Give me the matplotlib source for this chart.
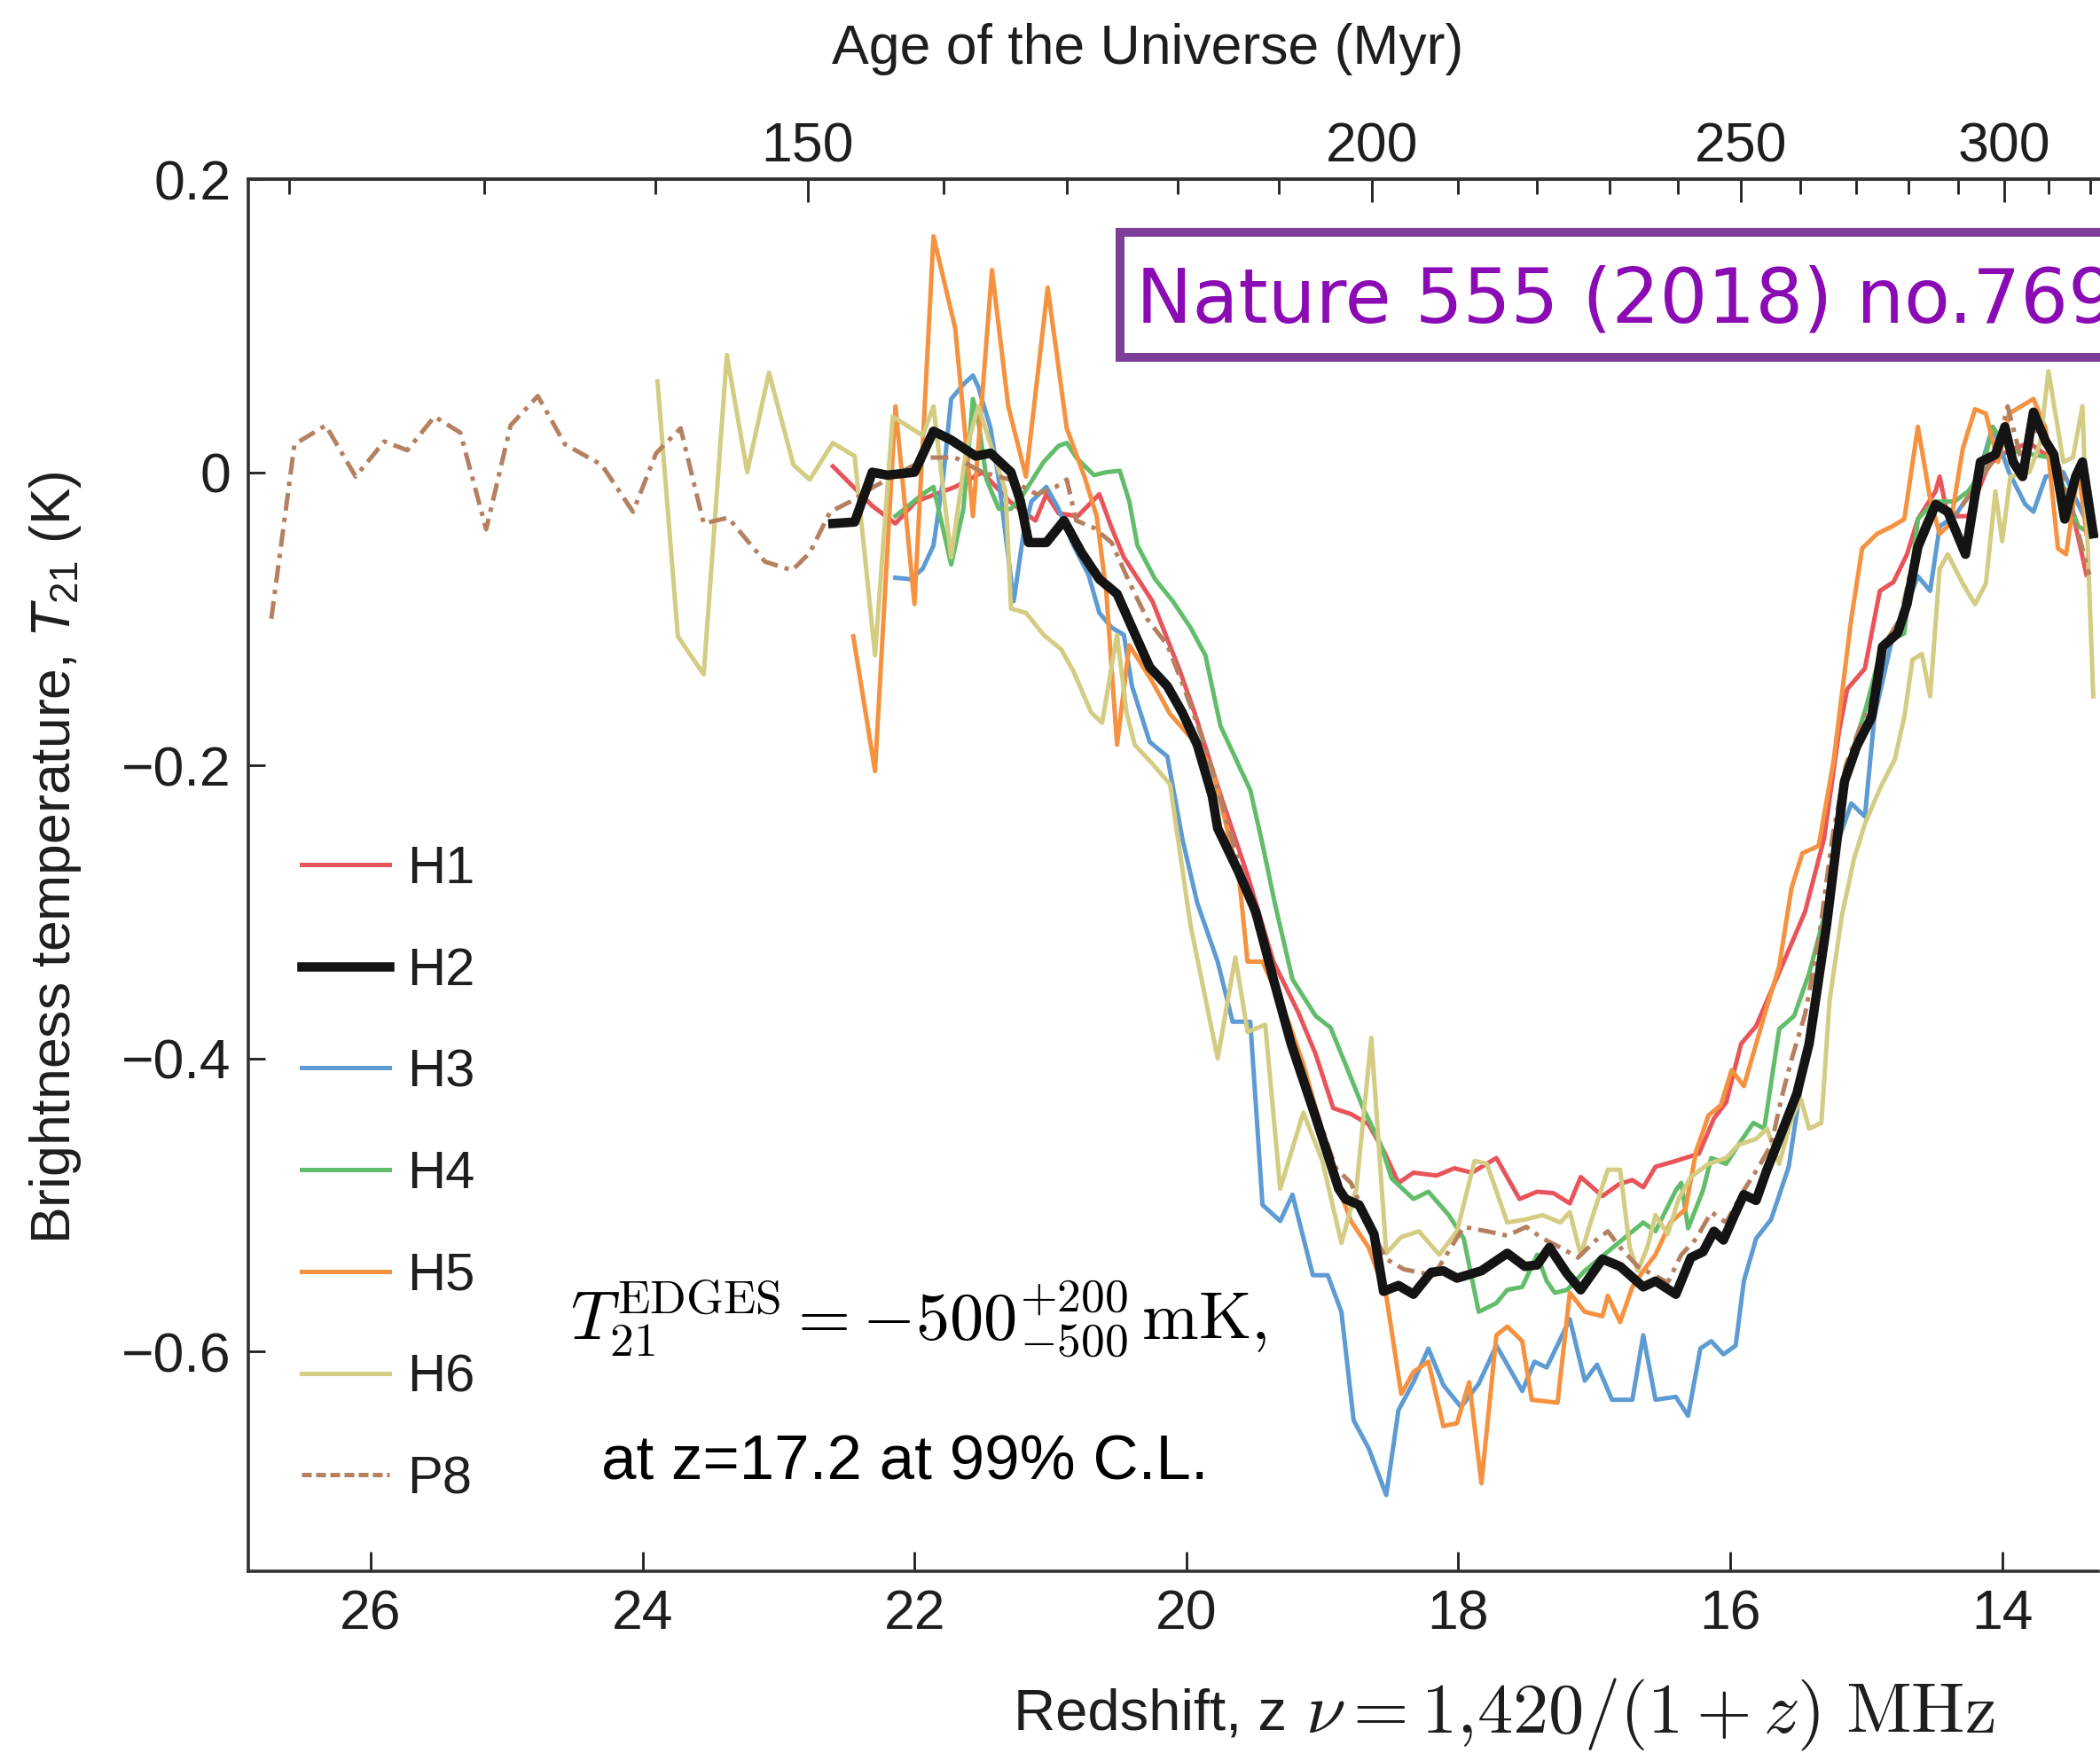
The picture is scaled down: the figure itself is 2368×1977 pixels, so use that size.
import numpy as np
import matplotlib
matplotlib.use("Agg")
import matplotlib.pyplot as plt
from matplotlib.patches import Rectangle
from matplotlib.ticker import FixedLocator

plt.rcParams['font.family'] = ['Liberation Sans', 'DejaVu Sans']
plt.rcParams['mathtext.fontset'] = 'custom'
plt.rcParams['mathtext.rm'] = 'Liberation Sans'
plt.rcParams['mathtext.it'] = 'Liberation Sans:italic'

#------------------------------------------------------------------#
# EDGES absorption profiles, T21 vs redshift for hardware cases
#------------------------------------------------------------------#

z_h1 = [22.60, 22.31, 22.14, 21.99, 21.70, 21.50, 21.30, 21.11, 21.03, 20.94, 20.80, 20.64, 20.55, 20.46,
        20.25, 20.05, 19.94, 19.75, 19.55, 19.36, 19.18, 19.05, 18.92, 18.79, 18.66, 18.55, 18.44, 18.33,
        18.16, 18.03, 17.90, 17.72, 17.55, 17.42, 17.30, 17.18, 17.10, 16.94, 16.82, 16.72, 16.64, 16.55,
        16.40, 16.23, 16.12, 16.03, 15.92, 15.81, 15.62, 15.45, 15.31, 15.20, 15.14, 15.01, 14.90, 14.80,
        14.70, 14.62, 14.49, 14.46, 14.40, 14.25, 14.10, 13.95, 13.80, 13.65, 13.50, 13.38]
t_h1 = [0.004, -0.023, -0.035, -0.020, -0.010, 0.000, -0.020, -0.033, -0.015, -0.028, -0.030, -0.015, -0.038, -0.058,
        -0.088, -0.135, -0.164, -0.220, -0.275, -0.334, -0.368, -0.397, -0.434, -0.438, -0.445, -0.463, -0.485, -0.478,
        -0.480, -0.475, -0.478, -0.468, -0.496, -0.491, -0.492, -0.499, -0.481, -0.494, -0.486, -0.483, -0.488, -0.474,
        -0.470, -0.465, -0.441, -0.430, -0.390, -0.378, -0.337, -0.300, -0.250, -0.177, -0.148, -0.134, -0.081, -0.075,
        -0.056, -0.032, -0.013, -0.003, -0.030, -0.030, 0.005, 0.015, 0.020, 0.010, -0.020, -0.070]

z_h2 = [22.60, 22.44, 22.31, 22.20, 22.00, 21.86, 21.73, 21.55, 21.44, 21.29, 21.22, 21.16, 21.03, 20.90,
        20.77, 20.64, 20.51, 20.40, 20.27, 20.14, 20.03, 19.92, 19.81, 19.77, 19.62, 19.49, 19.36, 19.23,
        19.05, 18.88, 18.83, 18.73, 18.62, 18.55, 18.44, 18.33, 18.20, 18.11, 18.01, 17.83, 17.64, 17.51,
        17.42, 17.33, 17.20, 17.10, 16.94, 16.81, 16.64, 16.55, 16.40, 16.29, 16.20, 16.12, 16.05, 15.96,
        15.90, 15.81, 15.73, 15.64, 15.51, 15.42, 15.38, 15.29, 15.22, 15.16, 15.07, 14.96, 14.88, 14.77,
        14.70, 14.62, 14.49, 14.40, 14.27, 14.16, 14.05, 13.98, 13.92, 13.85, 13.77, 13.68, 13.62, 13.54,
        13.46, 13.41, 13.33]
t_h2 = [-0.035, -0.034, 0.000, -0.002, 0.000, 0.028, 0.022, 0.011, 0.013, 0.000, -0.020, -0.048, -0.048, -0.033,
        -0.055, -0.073, -0.083, -0.106, -0.133, -0.146, -0.164, -0.186, -0.221, -0.243, -0.272, -0.300, -0.346, -0.390,
        -0.440, -0.489, -0.496, -0.500, -0.520, -0.559, -0.555, -0.561, -0.546, -0.545, -0.550, -0.545, -0.533, -0.542,
        -0.541, -0.529, -0.547, -0.558, -0.537, -0.542, -0.556, -0.552, -0.561, -0.536, -0.532, -0.518, -0.524, -0.505,
        -0.493, -0.497, -0.476, -0.455, -0.424, -0.390, -0.365, -0.308, -0.255, -0.211, -0.187, -0.167, -0.119, -0.110,
        -0.090, -0.051, -0.022, -0.027, -0.056, 0.007, 0.012, 0.031, 0.007, -0.003, 0.041, 0.021, 0.012, -0.032,
        -0.003, 0.007, -0.042]

z_h3 = [22.14, 22.03, 21.94, 21.86, 21.79, 21.73, 21.64, 21.57, 21.53, 21.44, 21.38, 21.27, 21.20, 21.14,
        21.03, 20.94, 20.83, 20.72, 20.64, 20.55, 20.46, 20.40, 20.27, 20.14, 20.03, 19.92, 19.77, 19.66,
        19.53, 19.44, 19.31, 19.22, 19.07, 18.96, 18.86, 18.77, 18.66, 18.53, 18.44, 18.33, 18.22, 18.11,
        17.98, 17.85, 17.72, 17.53, 17.44, 17.35, 17.18, 17.07, 16.98, 16.87, 16.72, 16.64, 16.55, 16.40,
        16.31, 16.22, 16.14, 16.05, 15.96, 15.90, 15.81, 15.70, 15.57, 15.45, 15.30, 15.20, 15.11, 15.01,
        14.94, 14.80, 14.70, 14.62, 14.53, 14.46, 14.35, 14.20, 14.07, 13.95, 13.83, 13.77, 13.68, 13.55,
        13.45, 13.35]
t_h3 = [-0.072, -0.073, -0.066, -0.050, -0.005, 0.050, 0.060, 0.066, 0.058, 0.030, -0.005, -0.088, -0.043, -0.020,
        -0.010, -0.025, -0.050, -0.070, -0.096, -0.106, -0.111, -0.146, -0.184, -0.194, -0.250, -0.294, -0.334, -0.375,
        -0.375, -0.500, -0.511, -0.493, -0.548, -0.548, -0.573, -0.647, -0.666, -0.698, -0.640, -0.621, -0.598, -0.623,
        -0.638, -0.622, -0.596, -0.627, -0.607, -0.611, -0.578, -0.620, -0.609, -0.633, -0.633, -0.589, -0.633, -0.631,
        -0.644, -0.598, -0.593, -0.602, -0.596, -0.552, -0.523, -0.510, -0.474, -0.400, -0.310, -0.250, -0.226, -0.235,
        -0.167, -0.110, -0.090, -0.071, -0.081, -0.037, -0.030, -0.010, 0.031, 0.000, -0.022, -0.027, -0.003, 0.000,
        -0.020, -0.040]

z_h4 = [22.14, 21.94, 21.86, 21.73, 21.64, 21.57, 21.53, 21.47, 21.38, 21.29, 21.20, 21.05, 20.94, 20.88,
        20.81, 20.68, 20.59, 20.49, 20.42, 20.36, 20.23, 20.10, 19.97, 19.86, 19.75, 19.53, 19.44, 19.35,
        19.22, 19.05, 18.94, 18.83, 18.70, 18.57, 18.49, 18.33, 18.22, 18.07, 17.96, 17.85, 17.72, 17.64,
        17.53, 17.42, 17.35, 17.29, 17.20, 17.07, 16.94, 16.81, 16.64, 16.55, 16.40, 16.36, 16.31, 16.20,
        16.14, 16.03, 15.94, 15.83, 15.75, 15.64, 15.53, 15.42, 15.30, 15.20, 15.10, 15.00, 14.90, 14.81,
        14.72, 14.62, 14.50, 14.35, 14.25, 14.15, 14.07, 13.95, 13.77, 13.65, 13.55, 13.44, 13.38]
t_h4 = [-0.030, -0.015, -0.010, -0.063, -0.025, 0.050, 0.035, -0.005, -0.025, -0.025, -0.015, 0.007, 0.018, 0.020,
        0.010, -0.002, 0.000, 0.001, -0.020, -0.050, -0.073, -0.088, -0.106, -0.125, -0.173, -0.217, -0.254, -0.294,
        -0.346, -0.371, -0.379, -0.404, -0.434, -0.459, -0.482, -0.496, -0.491, -0.507, -0.523, -0.573, -0.567, -0.558,
        -0.556, -0.534, -0.552, -0.560, -0.558, -0.545, -0.535, -0.525, -0.512, -0.518, -0.490, -0.485, -0.516, -0.490,
        -0.468, -0.472, -0.459, -0.444, -0.448, -0.380, -0.371, -0.342, -0.300, -0.240, -0.190, -0.160, -0.125, -0.114,
        -0.110, -0.032, -0.020, -0.020, -0.013, 0.000, 0.031, 0.015, 0.012, 0.010, -0.010, -0.037, -0.040]

z_h5 = [22.45, 22.29, 22.14, 22.00, 21.86, 21.70, 21.57, 21.43, 21.31, 21.18, 21.02, 20.88, 20.75, 20.66,
        20.59, 20.51, 20.42, 20.25, 20.12, 19.94, 19.81, 19.75, 19.61, 19.55, 19.44, 19.35, 19.25, 19.14,
        19.03, 18.92, 18.79, 18.66, 18.53, 18.42, 18.33, 18.22, 18.11, 18.01, 17.92, 17.83, 17.72, 17.64,
        17.53, 17.46, 17.27, 17.18, 17.07, 16.94, 16.90, 16.81, 16.72, 16.64, 16.55, 16.44, 16.33, 16.25,
        16.16, 16.07, 15.99, 15.90, 15.75, 15.64, 15.55, 15.47, 15.35, 15.24, 15.11, 15.03, 14.92, 14.81,
        14.72, 14.62, 14.53, 14.46, 14.38, 14.29, 14.20, 14.12, 14.03, 13.95, 13.77, 13.68, 13.59, 13.53,
        13.44, 13.38]
t_h5 = [-0.112, -0.204, 0.045, -0.090, 0.161, 0.098, -0.030, 0.138, 0.045, -0.003, 0.126, 0.030, -0.003, -0.030,
        -0.081, -0.186, -0.118, -0.143, -0.165, -0.184, -0.202, -0.224, -0.279, -0.334, -0.334, -0.353, -0.375, -0.404,
        -0.440, -0.478, -0.511, -0.529, -0.562, -0.629, -0.614, -0.607, -0.651, -0.649, -0.621, -0.690, -0.589, -0.583,
        -0.593, -0.633, -0.635, -0.560, -0.573, -0.576, -0.562, -0.580, -0.556, -0.545, -0.534, -0.512, -0.503, -0.463,
        -0.439, -0.432, -0.408, -0.419, -0.371, -0.337, -0.284, -0.260, -0.255, -0.197, -0.100, -0.052, -0.042, -0.037,
        -0.032, 0.031, -0.018, -0.042, -0.035, 0.016, 0.043, 0.040, 0.007, 0.040, 0.050, 0.030, -0.052, -0.056,
        0.002, -0.042]

z_h6 = [23.89, 23.74, 23.55, 23.38, 23.23, 23.07, 22.89, 22.77, 22.60, 22.44, 22.29, 22.16, 21.94, 21.86,
        21.73, 21.62, 21.53, 21.33, 21.29, 21.18, 21.05, 20.92, 20.83, 20.70, 20.62, 20.51, 20.44, 20.38,
        20.25, 20.12, 19.97, 19.77, 19.64, 19.55, 19.42, 19.31, 19.14, 19.00, 18.86, 18.75, 18.64, 18.53,
        18.42, 18.29, 18.14, 18.01, 17.88, 17.79, 17.64, 17.51, 17.38, 17.25, 17.18, 17.10, 17.01, 16.90,
        16.81, 16.74, 16.68, 16.61, 16.55, 16.46, 16.38, 16.29, 16.16, 16.03, 15.94, 15.81, 15.73, 15.64,
        15.55, 15.48, 15.42, 15.33, 15.27, 15.18, 15.09, 15.01, 14.90, 14.79, 14.72, 14.66, 14.59, 14.53,
        14.46, 14.40, 14.29, 14.20, 14.12, 14.05, 14.00, 13.94, 13.80, 13.72, 13.66, 13.55, 13.48, 13.41,
        13.33]
t_h6 = [0.062, -0.112, -0.138, 0.080, 0.000, 0.068, 0.005, -0.005, 0.020, 0.011, -0.125, 0.038, 0.025, 0.045,
        -0.058, 0.015, 0.045, -0.013, -0.093, -0.096, -0.111, -0.121, -0.136, -0.164, -0.171, -0.111, -0.164, -0.186,
        -0.199, -0.213, -0.309, -0.400, -0.331, -0.382, -0.377, -0.489, -0.437, -0.470, -0.526, -0.489, -0.386, -0.533,
        -0.522, -0.518, -0.534, -0.518, -0.470, -0.472, -0.512, -0.510, -0.507, -0.512, -0.505, -0.534, -0.507, -0.476,
        -0.476, -0.529, -0.545, -0.529, -0.507, -0.520, -0.496, -0.481, -0.472, -0.468, -0.459, -0.455, -0.448, -0.472,
        -0.441, -0.428, -0.448, -0.444, -0.361, -0.303, -0.264, -0.240, -0.216, -0.196, -0.167, -0.128, -0.124, -0.153,
        -0.066, -0.056, -0.076, -0.090, -0.076, -0.013, -0.047, -0.003, 0.000, 0.020, 0.069, 0.007, 0.010, 0.045,
        -0.153]

z_p8 = [26.73, 26.56, 26.33, 26.11, 25.90, 25.73, 25.53, 25.34, 25.15, 24.97, 24.77, 24.57, 24.30, 24.07,
        23.90, 23.72, 23.55, 23.37, 23.10, 22.90, 22.77, 22.62, 22.47, 22.30, 22.10, 21.90, 21.70, 21.50,
        21.30, 21.10, 20.96, 20.88, 20.81, 20.68, 20.55, 20.42, 20.29, 20.14, 20.03, 19.85, 19.65, 19.45,
        19.25, 19.05, 18.90, 18.79, 18.65, 18.53, 18.40, 18.18, 17.96, 17.79, 17.64, 17.50, 17.38, 17.25,
        17.12, 17.00, 16.90, 16.81, 16.68, 16.46, 16.36, 16.25, 16.14, 16.03, 15.90, 15.79, 15.70, 15.62,
        15.55, 15.45, 15.35, 15.25, 15.15, 15.05, 14.95, 14.85, 14.75, 14.62, 14.50, 14.35, 14.20, 14.05,
        13.96, 13.85, 13.75, 13.62, 13.50, 13.36]
t_p8 = [-0.100, 0.019, 0.032, -0.003, 0.021, 0.015, 0.038, 0.027, -0.039, 0.032, 0.052, 0.019, 0.005, -0.027,
        0.013, 0.030, -0.035, -0.031, -0.061, -0.067, -0.055, -0.027, -0.020, -0.010, 0.000, 0.010, 0.010, 0.000,
        -0.005, -0.015, -0.010, -0.005, -0.033, -0.038, -0.048, -0.075, -0.100, -0.118, -0.144, -0.190, -0.255, -0.320,
        -0.385, -0.435, -0.475, -0.485, -0.515, -0.537, -0.544, -0.548, -0.515, -0.518, -0.521, -0.515, -0.523, -0.529,
        -0.536, -0.525, -0.518, -0.529, -0.542, -0.553, -0.534, -0.523, -0.505, -0.512, -0.490, -0.474, -0.459, -0.426,
        -0.401, -0.370, -0.320, -0.250, -0.200, -0.175, -0.155, -0.115, -0.100, -0.045, -0.020, -0.030, -0.010, 0.010,
        0.045, 0.005, 0.030, 0.015, -0.020, -0.070]

series = [
    ('H1', z_h1, t_h1, '#e8545a', '-', 1.8, 3),
    ('H2', z_h2, t_h2, '#141414', '-', 3.8, 10),
    ('H3', z_h3, t_h3, '#5d9bd3', '-', 1.8, 3),
    ('H4', z_h4, t_h4, '#62bd6b', '-', 1.8, 3),
    ('H5', z_h5, t_h5, '#f5913f', '-', 1.8, 3),
    ('H6', z_h6, t_h6, '#d3cc82', '-', 1.8, 4),
    ('P8', z_p8, t_p8, '#b5805f', (0, (4, 1.6, 1, 1.6)), 1.8, 5),
]

age_ticks = [150, 200, 250, 300]
age_minor = [a for a in range(120, 350, 10) if a not in age_ticks]
z_ticks = [14, 16, 18, 20, 22, 24, 26]
t_ticks = [0.2, 0.0, -0.2, -0.4, -0.6]
t_ticklabels = ['0.2', '0', '\u22120.2', '\u22120.4', '\u22120.6']

# age of the universe in Myr, matter dominated scaling
AGE_CONST = 17400.0

def z_to_age(z):
    z = np.asarray(z, dtype=float)
    return AGE_CONST / np.clip(1.0 + z, 1e-3, None) ** 1.5

def age_to_z(t):
    t = np.asarray(t, dtype=float)
    return (AGE_CONST / np.clip(t, 1e-3, None)) ** (2.0 / 3.0) - 1.0

txt = '#1e1e1e'

fig = plt.figure(figsize=(11.84, 9.885), dpi=200)
ax = fig.add_axes([0.1182, 0.1037, 0.8810, 0.7941])

for name, zz, tt, col, ls, lw, zo in series:
    ax.plot(zz, tt, color=col, ls=ls, lw=lw, label=name, zorder=zo,
            solid_joinstyle='round')

ax.set_xlim(26.90, 13.293)
ax.set_ylim(-0.75, 0.2)
ax.set_xticks(z_ticks)
ax.set_yticks(t_ticks)
ax.set_yticklabels(t_ticklabels)
ax.tick_params(axis='x', direction='in', length=8, width=1.0, labelsize=22.5,
               pad=7, top=False, colors=txt)
ax.tick_params(axis='y', direction='in', length=7, width=1.0, labelsize=22.5,
               pad=7, right=False, colors=txt)
for s in ['left', 'bottom', 'top']:
    ax.spines[s].set_linewidth(1.3)
    ax.spines[s].set_color('#333333')
ax.spines['right'].set_visible(False)

secax = ax.secondary_xaxis('top', functions=(z_to_age, age_to_z))
secax.xaxis.set_major_locator(FixedLocator(age_ticks))
secax.xaxis.set_minor_locator(FixedLocator(age_minor))
secax.tick_params(which='major', direction='in', length=9.5, width=1.0,
                  labelsize=22.5, pad=2.5, colors=txt)
secax.tick_params(which='minor', direction='in', length=6, width=1.0, colors=txt)
secax.spines['top'].set_linewidth(1.3)
secax.spines['top'].set_color('#333333')

leg = ax.legend(loc='upper left', bbox_to_anchor=(0.1436, 0.518),
                bbox_transform=fig.transFigure, frameon=False, fontsize=21.5,
                handlelength=1.65, handletextpad=0.35, labelspacing=1.0,
                borderpad=0, borderaxespad=0)
for t in leg.get_texts():
    t.set_color(txt)
# P8 key drawn as a plain dashed stroke
leg.get_lines()[-1].set_linestyle((0, (2.2, 1.0)))

fig.text(0.5465, 0.972, 'Age of the Universe (Myr)', fontsize=22.5,
         ha='center', va='center', color=txt)
fig.text(0.0262, 0.511, r'Brightness temperature, $T_{21}$ (K)', rotation=90,
         fontsize=22.5, ha='center', va='center', color=txt)
fig.text(0.4827, 0.0222, 'Redshift, z', fontsize=23.5, ha='left', va='center',
         color=txt)
fig.text(0.6216, 0.0222, r'$\nu = 1{,}420/(1 + z)\ \mathrm{MHz}$',
         math_fontfamily='cm', fontsize=29, ha='left', va='center', color=txt)

fig.text(0.2715, 0.2478, r'$T_{21}^{\mathrm{EDGES}} = -500^{+200}_{-500}\,\mathrm{mK},$',
         math_fontfamily='cm', fontsize=27.5, ha='left', va='center', color='black')
fig.text(0.2865, 0.1654, 'at z=17.2 at 99% C.L.', fontsize=25.5,
         ha='left', va='center', color='black')

# citation box, runs off the right edge
box = Rectangle((0.5334, 0.7962), 0.6, 0.0713, transform=fig.transFigure,
                facecolor='white', edgecolor='#7b3f99', lw=3.6, zorder=20,
                clip_on=False)
fig.add_artist(box)
fig.text(0.541, 0.828, 'Nature 555 (2018) no.7694', color='#8a0ab4',
         fontsize=30.5, family='DejaVu Sans', ha='left', va='center', zorder=21)

fig.savefig('out.png', dpi=200)
